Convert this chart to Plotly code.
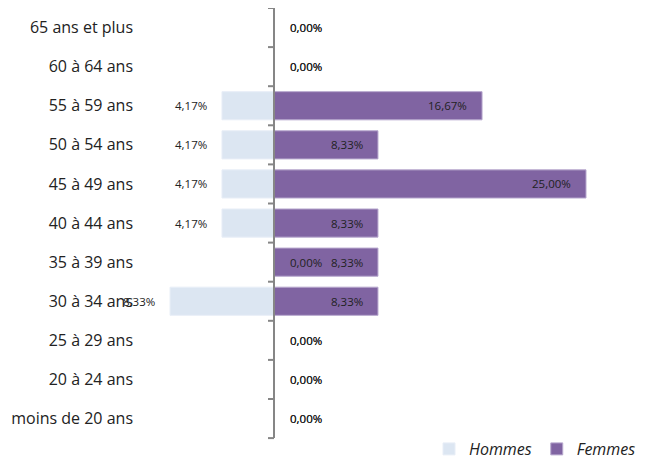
import plotly.graph_objects as go

categories = ["moins de 20 ans", "20 à 24 ans", "25 à 29 ans", "30 à 34 ans", "35 à 39 ans",
              "40 à 44 ans", "45 à 49 ans", "50 à 54 ans", "55 à 59 ans", "60 à 64 ans",
              "65 ans et plus"]
hommes = [0.0, 0.0, 0.0, 8.33, 0.0, 4.17, 4.17, 4.17, 4.17, 0.0, 0.0]
femmes = [0.0, 0.0, 0.0, 8.33, 8.33, 8.33, 25.0, 8.33, 16.67, 0.0, 0.0]

FONT = "Open Sans"
C_H = "#DCE6F2"
C_F = "#8064A2"
AX = "#868686"

def fmt(v):
    return f"{v:.2f}%".replace(".", ",")

fig = go.Figure()
fig.add_trace(go.Bar(y=categories, x=[-v for v in hommes], orientation="h", name="Hommes",
                     marker=dict(color=C_H, line=dict(color="#E8EEF7", width=1)),
                     hoverinfo="skip"))
fig.add_trace(go.Bar(y=categories, x=femmes, orientation="h", name="Femmes",
                     marker=dict(color=C_F, line=dict(color="#B7A8CE", width=1)),
                     hoverinfo="skip"))

LBL = dict(size=11.5, color="#222", family=FONT)
ann = []
for sign, series in ((-1, hommes), (1, femmes)):
    for c, v in zip(categories, series):
        if v > 0:
            ann.append(dict(x=sign * v, y=c, text=fmt(v), xanchor="right", xshift=-13,
                            showarrow=False, font=LBL))
        else:
            ann.append(dict(x=0, y=c, text=fmt(v), xanchor="left", xshift=14,
                            showarrow=False, font=LBL))

n = len(categories)
shapes = [dict(type="line", xref="x", yref="y", x0=0, x1=0, y0=-0.5, y1=n - 0.5,
               line=dict(color=AX, width=2))]
for i in range(n + 1):
    shapes.append(dict(type="line", xref="x", yref="y", xsizemode="pixel", xanchor=0,
                       x0=-6, x1=0, y0=i - 0.5, y1=i - 0.5,
                       line=dict(color=AX, width=2)))

# page body adds an 8px offset; figure coords = screen coords - 8
W, H = 637, 458
L, R, T, B = 132, 4, 0, 0
band = 39.1
plot_h = H - T - B
ymin = (n - 0.5) - plot_h / band
pxper = 12.48
zero_x = 266
xmin = -(zero_x - L) / pxper
xmax = (W - R - zero_x) / pxper

fig.update_layout(
    width=W, height=H,
    margin=dict(l=L, r=R, t=T, b=B, pad=0),
    paper_bgcolor="white", plot_bgcolor="white",
    barmode="overlay", bargap=0.28,
    font=dict(family=FONT, color="#222"),
    xaxis=dict(range=[xmin, xmax], showgrid=False, showticklabels=False, ticks="",
               zeroline=False, fixedrange=True, automargin=False),
    yaxis=dict(type="category", categoryorder="array", categoryarray=categories,
               range=[ymin, n - 0.5], automargin=False,
               showgrid=False, ticks="", showline=False, zeroline=False,
               tickfont=dict(size=16, family=FONT, color="#222"), ticklabelstandoff=6),
    legend=dict(orientation="h", x=1.0, xanchor="right", y=0.0, yanchor="bottom",
                font=dict(size=16, family=FONT, style="italic", color="#222"),
                itemwidth=30, traceorder="normal", bgcolor="rgba(0,0,0,0)"),
    annotations=ann, shapes=shapes,
    showlegend=True,
)

fig.write_html("out.html")
